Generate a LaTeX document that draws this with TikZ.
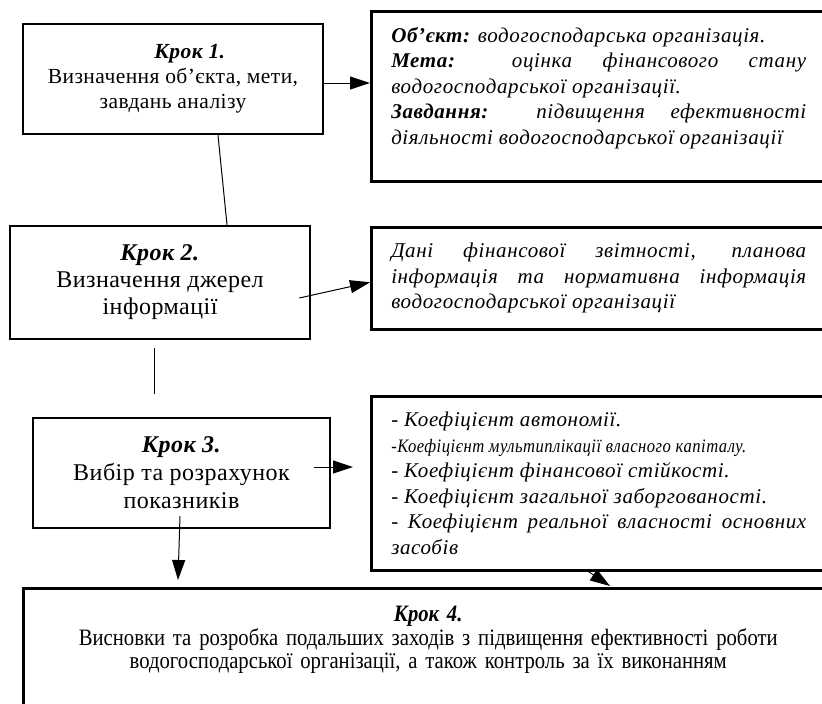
\documentclass[tikz,border=0pt]{standalone}
\usepackage{fontspec}
\setmainfont{Liberation Serif}
\newfontfamily\stepfont[LetterSpace=2]{Liberation Serif}
\newfontfamily\notefont[LetterSpace=3]{Liberation Serif}
\newfontfamily\narrowfont[FakeStretch=0.88]{Liberation Serif}
\usetikzlibrary{arrows.meta}

\tikzset{
    stepbox/.style={draw, line width=2.5pt, align=center, inner sep=0pt},
    infobox/.style={draw, line width=2.5pt, anchor=north west, align=justify,
        inner xsep=20pt, inner ysep=16pt, text width=415pt,
        font=\notefont\itshape\fontsize{21}{25.5}\selectfont},
    arr/.style={-{Triangle[length=20pt,width=13pt]}, line width=1pt},
    link/.style={line width=1pt}
}

\begin{document}
\begin{tikzpicture}[x=1pt,y=-1pt]
        \clip (0,0) rectangle (822,704);

        \node[stepbox, minimum width=300pt, minimum height=110pt,
            font=\stepfont\fontsize{21.5}{25}\selectfont] (step1) at (173,79)
            {\hspace*{34pt}\textbf{\textit{Крок 1.}}\\ Визначення об’єкта, мети,\\ завдань аналізу};
        \node[stepbox, minimum width=300pt, minimum height=113pt,
            font=\stepfont\fontsize{24}{27}\selectfont] (step2) at (160,282.5)
            {\textbf{\textit{Крок 2.}}\\ Визначення джерел\\ інформації};
        \node[stepbox, minimum width=297pt, minimum height=110pt,
            font=\stepfont\fontsize{24}{28}\selectfont] (step3) at (181.5,473)
            {\textbf{\textit{Крок 3.}}\\ Вибір та розрахунок\\ показників};
        \node[stepbox, anchor=north west, inner ysep=18pt, text width=810pt, text depth=150pt,
            font=\narrowfont\fontsize{23.5}{23.5}\selectfont] (step4) at (22,587)
            {\textbf{\textit{Крок 4.}}\\ Висновки та розробка подальших заходів з підвищення ефективності роботи\\
            водогосподарської організації, а також контроль за їх виконанням};

        \node[infobox, text depth=123pt] (goal) at (370,10)
            {\textbf{Об’єкт:} водогосподарська організація.\par
            \textbf{Мета:} оцінка фінансового стану\linebreak водогосподарської організації.\par
            \textbf{Завдання:} підвищення ефективності\linebreak діяльності водогосподарської організації};
        \node[infobox, minimum height=97pt] (source) at (370,226)
            {Дані фінансової звітності, планова\linebreak інформація та нормативна інформація\linebreak водогосподарської організації};
        \node[infobox, minimum height=167pt] (indicators) at (370,395)
            {- Коефіцієнт автономії.\par
            \resizebox{355pt}{\height}{\fontsize{19}{25.5}\selectfont -Коефіцієнт мультиплікації власного капіталу.}\par
            - Коефіцієнт фінансової стійкості.\par
            - Коефіцієнт загальної заборгованості.\par
            - Коефіцієнт реальної власності основних\linebreak засобів};

        \draw[arr] ([yshift=-4pt]step1.east) -- ([yshift=-4pt]step1.east -| goal.west);
        \draw[link] ([xshift=45pt]step1.south) -- ([xshift=67pt]step2.north);
        \draw[arr] ([xshift=-12pt,yshift=-15.5pt]step2.east) -- ([yshift=-4pt]source.west);
        \draw[link] ([xshift=-6pt,yshift=-8pt]step2.south) -- ([xshift=-27.5pt,yshift=23pt]step3.north);
        \draw[arr] ([xshift=-17pt,yshift=6pt]step3.east) -- ([xshift=-17pt,yshift=6pt]step3.east -| indicators.west);
        \draw[arr] ([xshift=-1.5pt,yshift=13pt]step3.south) -- ([xshift=156pt,yshift=7pt]step4.north west);
        \draw[arr] ([xshift=-10pt]indicators.south) -- ([xshift=588pt,yshift=1pt]step4.north west);
\end{tikzpicture}
\end{document}
